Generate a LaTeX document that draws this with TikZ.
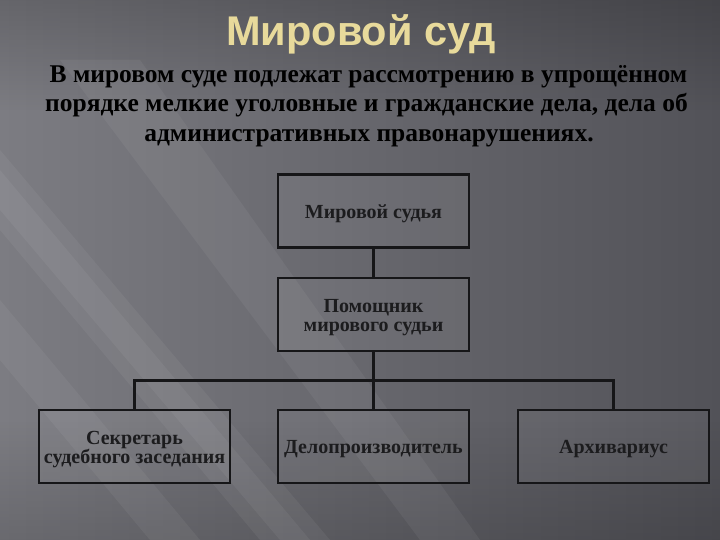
\documentclass[tikz,border=0pt]{standalone}
\usepackage{fontspec}
\usetikzlibrary{fadings}
\setmainfont{Liberation Serif}
\newfontfamily\titlefont{Liberation Sans}
\definecolor{bgL}{RGB}{124,124,130}
\definecolor{bgR}{RGB}{82,82,88}
\definecolor{titlecol}{RGB}{232,218,155}
\definecolor{boxline}{RGB}{22,22,24}
\definecolor{boxtext}{RGB}{28,28,30}
\tikzset{
  orgbox/.style={draw=boxline, line width=2.6pt, fill=white, fill opacity=0.05, text opacity=1,
    minimum width=191pt, minimum height=73pt, inner sep=0pt},
  boxlabel/.style={align=center, text=boxtext, inner sep=0pt, yshift=-3pt,
    font=\bfseries\fontsize{20}{19}\selectfont},
  link/.style={draw=boxline, line width=2.6pt},
  para/.style={text=black, font=\bfseries\fontsize{25.5}{29}\selectfont, inner sep=0pt, anchor=base},
  streak/.style={white, opacity=0.05}
}
\begin{document}
\begin{tikzpicture}[x=1pt,y=-1pt]
\useasboundingbox (0,0) rectangle (720,540);
\shade[left color=bgL, right color=bgR] (0,0) rectangle (720,540);
\fill[black, opacity=0.18, path fading=south] (0,0) rectangle (720,110);
\fill[black, opacity=0.15, path fading=north] (0,420) rectangle (720,540);
\fill[streak] (0,150) -- (0,230) -- (260,540) -- (330,540) -- cycle;
\fill[streak] (0,170) -- (0,210) -- (280,540) -- (310,540) -- cycle;
\fill[streak] (0,300) -- (0,360) -- (150,540) -- (200,540) -- cycle;
\fill[streak] (60,60) -- (140,60) -- (480,540) -- (420,540) -- cycle;
% title
\node[text=titlecol, font=\titlefont\bfseries\fontsize{41.5}{46}\selectfont, anchor=base, inner sep=0pt] (title) at (361,46) {Мировой суд};
% paragraph
\node[para] (p1) at (368.5,83) {В мировом суде подлежат рассмотрению в упрощённом};
\node[para] (p2) at (366.5,112) {порядке мелкие уголовные и гражданские дела, дела об};
\node[para] (p3) at (369,142) {административных правонарушениях.};
% boxes
\node[orgbox, label={[boxlabel]center:{Мировой судья}}] (b1) at (373.5,211) {};
\node[orgbox, label={[boxlabel]center:{Помощник\\мирового судьи}}] (b2) at (373.5,314.5) {};
\node[orgbox, label={[boxlabel]center:{Секретарь\\судебного заседания}}] (b3) at (134.5,446.5) {};
\node[orgbox, label={[boxlabel]center:{Делопроизводитель}}] (b4) at (373.5,446.5) {};
\node[orgbox, label={[boxlabel]center:{Архивариус}}] (b5) at (613.5,446.5) {};
\coordinate (bus) at (373.5,380.5);
\draw[link] (b1.south) -- (b2.north);
\draw[link] (b2.south) -- (bus);
\draw[link] (b3.north) |- (bus) -| (b5.north);
\draw[link] (bus) -- (b4.north);
\end{tikzpicture}
\end{document}
